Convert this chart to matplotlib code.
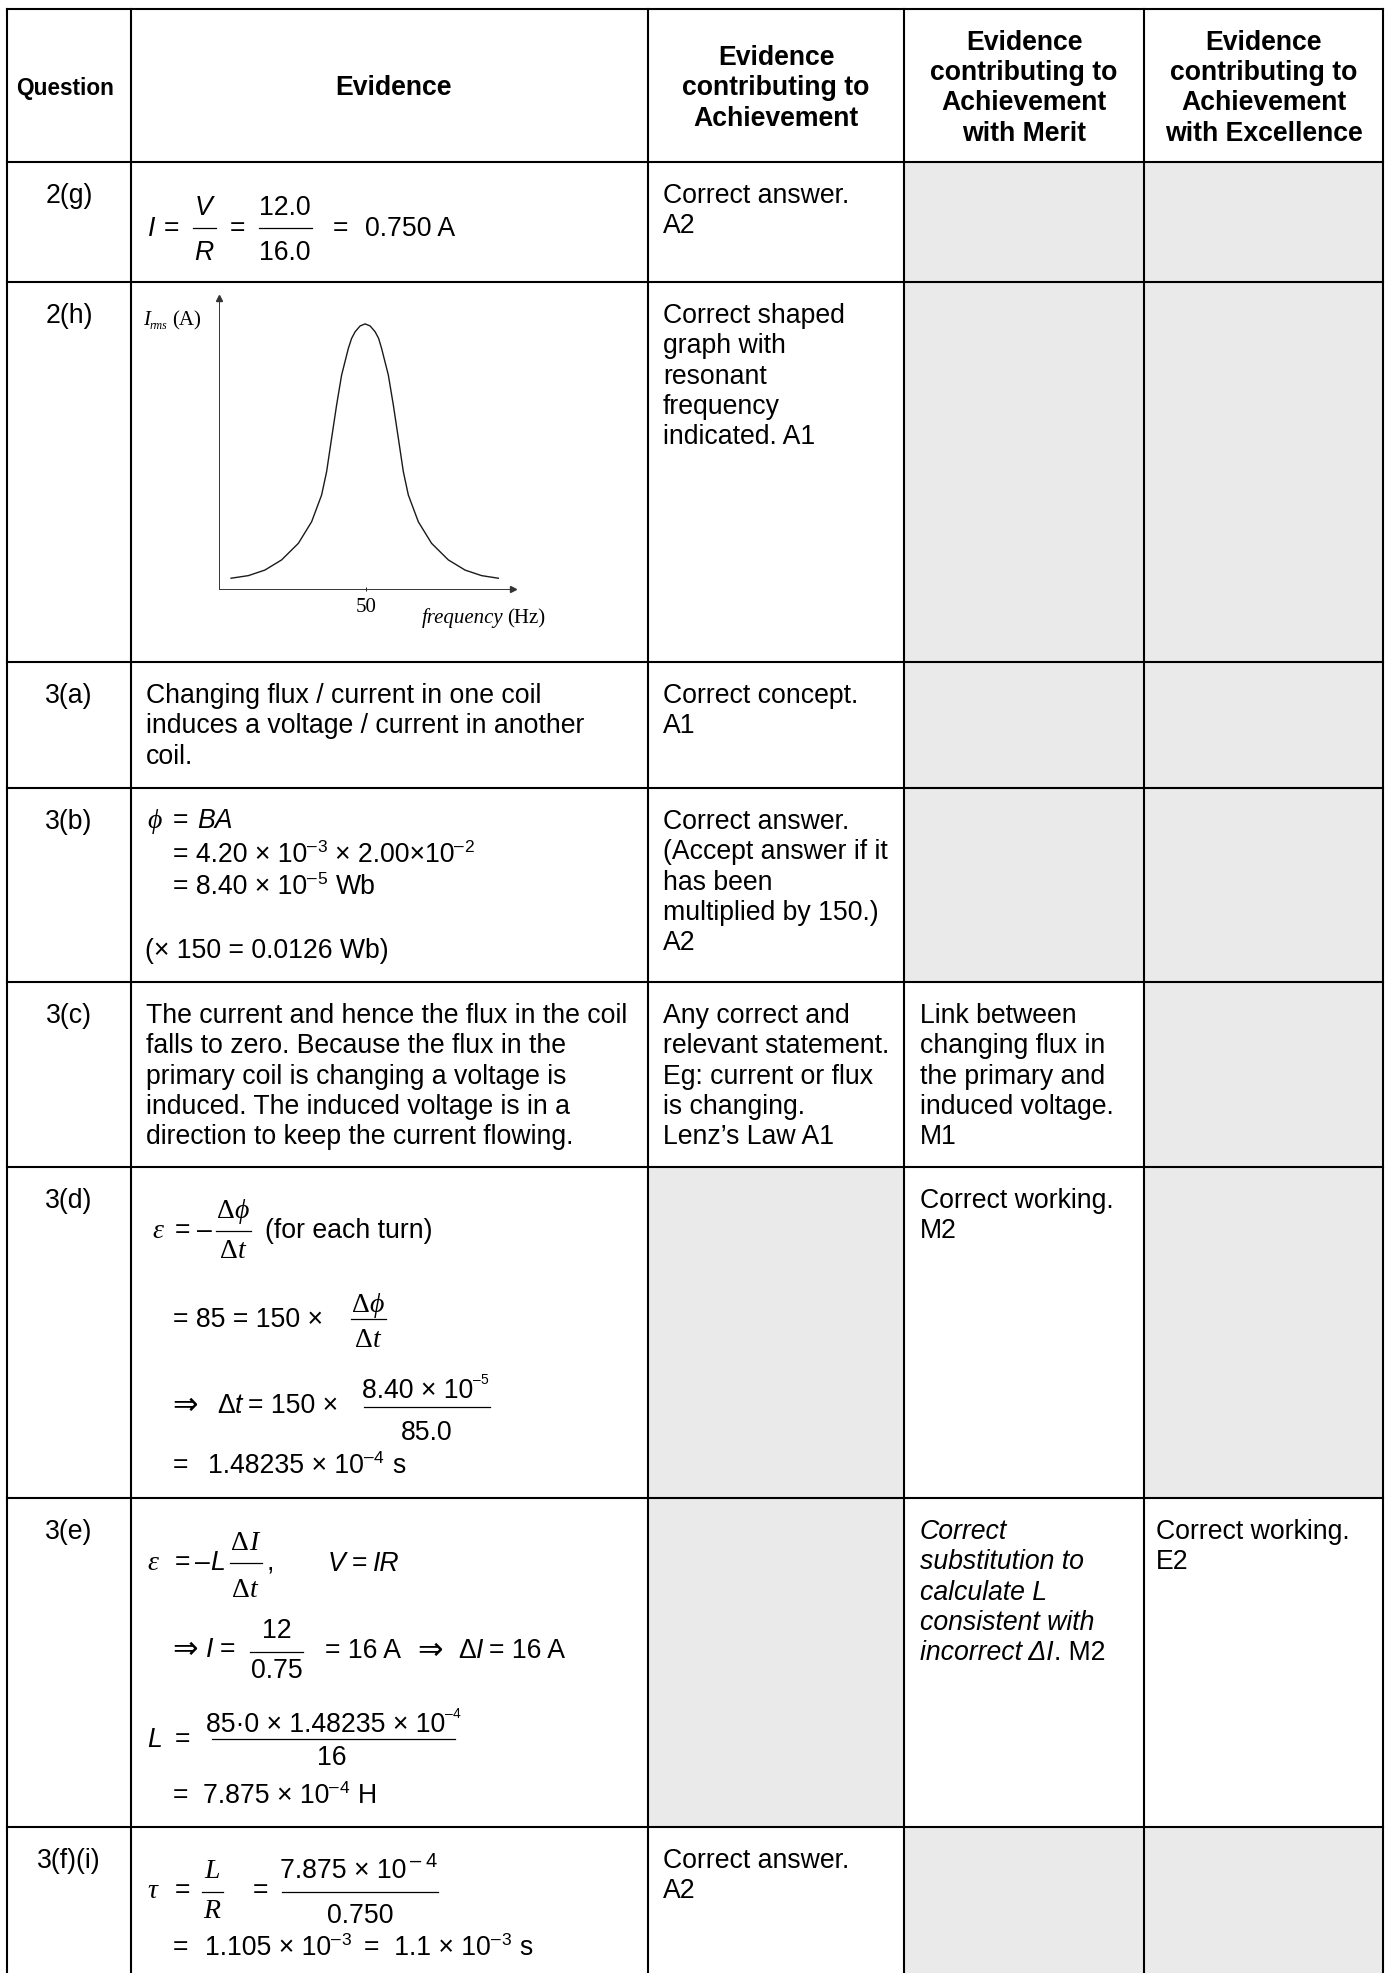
import matplotlib
matplotlib.use('Agg')
import matplotlib.pyplot as plt
from matplotlib.patches import Rectangle

plt.rcParams['font.family'] = ['Liberation Sans', 'DejaVu Sans']

# ---- table content ----
headers = [
    ['Question'],
    ['Evidence'],
    ['Evidence', 'contributing to', 'Achievement'],
    ['Evidence', 'contributing to', 'Achievement', 'with Merit'],
    ['Evidence', 'contributing to', 'Achievement', 'with Excellence'],
]
questions = ['2(g)', '2(h)', '3(a)', '3(b)', '3(c)', '3(d)', '3(e)', '3(f)(i)']
achievement = [
    ['Correct answer.', 'A2'],
    ['Correct shaped', 'graph with', 'resonant', 'frequency', 'indicated. A1'],
    ['Correct concept.', 'A1'],
    ['Correct answer.', '(Accept answer if it', 'has been', 'multiplied by 150.)', 'A2'],
    ['Any correct and', 'relevant statement.', 'Eg: current or flux', 'is changing.',
     'Lenz\u2019s Law A1'],
    [],
    [],
    ['Correct answer.', 'A2'],
]
merit = [
    [], [], [], [],
    ['Link between', 'changing flux in', 'the primary and', 'induced voltage.', 'M1'],
    ['Correct working.', 'M2'],
    ['Correct', 'substitution to', 'calculate L', 'consistent with'],
    [],
]
merit_last_3e = ('incorrect \u0394I', '. M2')
excellence = [[], [], [], [], [], [], ['Correct working.', 'E2'], []]
# grey cells: [achievement, merit, excellence]
shade = [
    [0, 1, 1], [0, 1, 1], [0, 1, 1], [0, 1, 1],
    [0, 0, 1], [1, 0, 1], [1, 0, 0], [0, 1, 1],
]
evidence_3a = ['Changing flux / current in one coil',
               'induces a voltage / current in another', 'coil.']
evidence_3c = ['The current and hence the flux in the coil',
               'falls to zero. Because the flux in the',
               'primary coil is changing a voltage is',
               'induced. The induced voltage is in a',
               'direction to keep the current flowing.']

# resonance curve (frequency in Hz, relative I_rms)
freq = [4.1, 10.0, 15.6, 21.3, 27.0, 31.5, 34.9, 36.6, 38.3, 40.0, 41.7, 44.0,
        45.1, 46.3, 48.0, 49.7, 51.4, 53.1, 54.3, 55.3, 57.6, 59.3, 61.0, 62.7,
        64.4, 67.8, 72.3, 78.0, 83.7, 89.3, 95.0]
current = [0.037, 0.046, 0.065, 0.100, 0.157, 0.231, 0.323, 0.403, 0.518, 0.632,
           0.735, 0.827, 0.861, 0.884, 0.904, 0.911, 0.904, 0.884, 0.861, 0.827,
           0.735, 0.632, 0.518, 0.403, 0.323, 0.231, 0.157, 0.100, 0.065, 0.046,
           0.037]

# ---- layout ----
W, H = 1387, 1973
col_x = [7, 131, 648, 904, 1144, 1383]
row_y = [9, 162, 282, 662, 788, 982, 1167, 1498, 1827]
text_x = [None, 146, 663, 920, 1156]
FIRST, LEAD = 41, 30.3
FS, RS = 19.2, 20
GREY = '#eaeaea'
SANS = ['Liberation Sans', 'DejaVu Sans']
SERIF = ['Liberation Serif', 'DejaVu Serif']
S = dict(fontsize=FS, family=SANS)
SI = dict(fontsize=FS, family=SANS, style='italic')
R = dict(fontsize=RS, family=SERIF)
RI = dict(fontsize=RS, family=SERIF, style='italic')
SUP = dict(fontsize=12.5, family=SANS)
SUPS = dict(fontsize=10, family=SANS)
SUPL = dict(fontsize=14.5, family=SANS)
ARW = dict(fontsize=22, family=['DejaVu Sans'])

fig = plt.figure(figsize=(W / 100, H / 100), dpi=100)
ax = fig.add_axes([0, 0, 1, 1])
ax.set_xlim(0, W)
ax.set_ylim(H, 0)
ax.axis('off')
renderer = fig.canvas.get_renderer()


def put(x, y, s, kw=S, ha='left'):
    return ax.text(x, y, s, va='baseline', ha=ha, **kw)


def run(x, y, parts, ha='left'):
    # parts: (text, style) or (text, style, raise) or a gap in pixels
    texts, cur = [], x
    for p in parts:
        if isinstance(p, (int, float)):
            cur += p
            continue
        dy = p[2] if len(p) > 2 else 0
        t = put(cur, y - dy, p[0], p[1])
        cur += t.get_window_extent(renderer=renderer).width
        texts.append(t)
    if ha == 'center':
        shift = (cur - x) / 2
        for t in texts:
            t.set_x(t.get_position()[0] - shift)


def bar(x0, x1, y):
    ax.plot([x0, x1], [y, y], color='black', lw=0.9)


def para(x, top, lines, kw=S):
    for i, s in enumerate(lines):
        put(x, top + FIRST + i * LEAD, s, kw)


# grey cells
bottoms = row_y[1:] + [H]
for i, flags in enumerate(shade):
    for j, f in enumerate(flags):
        if f:
            ax.add_patch(Rectangle((col_x[j + 2], row_y[i + 1]),
                                   col_x[j + 3] - col_x[j + 2],
                                   bottoms[i + 1] - row_y[i + 1],
                                   facecolor=GREY, edgecolor='none'))

# grid
for y in row_y:
    ax.plot([col_x[0], col_x[-1]], [y, y], color='black', lw=1.5,
            solid_capstyle='projecting')
for x in col_x:
    ax.plot([x, x], [row_y[0], H], color='black', lw=1.5,
            solid_capstyle='projecting')

# header
for j, lines in enumerate(headers):
    xc = (col_x[j] + col_x[j + 1]) / 2 + (4 if j == 1 else 0)
    n = len(lines)
    kw = dict(fontsize=16.3 if j == 0 else FS, family=SANS, weight='bold')
    for i, s in enumerate(lines):
        put(xc - (4 if j == 0 else 0), 86 + 9.2 + (i - (n - 1) / 2) * LEAD, s, kw,
            ha='center')

# question labels and marking columns
for i, q in enumerate(questions):
    top = row_y[i + 1]
    put(69, top + FIRST, q, ha='center')
    para(text_x[2], top, achievement[i])
    para(text_x[3], top, merit[i], SI if i == 6 else S)
    para(text_x[4], top, excellence[i])
run(text_x[3], row_y[7] + FIRST + 4 * LEAD, [(merit_last_3e[0], SI), (merit_last_3e[1], S)])

# 2(g)
put(148, 236, 'I', SI)
put(164, 236, '=')
put(204, 215, 'V', SI, ha='center')
bar(193, 216, 228)
put(204, 260, 'R', SI, ha='center')
put(230, 236, '=')
put(285, 215, '12.0', ha='center')
bar(259, 312, 228)
put(285, 260, '16.0', ha='center')
put(333, 236, '=')
put(365, 236, '0.750 A')

# 2(h) resonance sketch
gx0, gx1, gy0, gy1 = 219, 513, 298, 589
gax = fig.add_axes([gx0 / W, 1 - gy1 / H, (gx1 - gx0) / W, (gy1 - gy0) / H])
gax.patch.set_alpha(0)
gax.set_xlim(0, 100)
gax.set_ylim(0, 1)
gax.plot(freq, current, color='#1a1a1a', lw=1.0)
for side in ['top', 'right']:
    gax.spines[side].set_visible(False)
for side in ['left', 'bottom']:
    gax.spines[side].set_linewidth(0.7)
    gax.spines[side].set_color('#333333')
gax.set_yticks([])
gax.set_xticks([50])
gax.set_xticklabels(['50'], family=SERIF, fontsize=15)
gax.tick_params(axis='x', direction='inout', length=3, width=0.6, pad=5)
gax.plot(1, 0, '>', color='#333333', ms=4, transform=gax.get_yaxis_transform(),
         clip_on=False)
gax.plot(0, 1, '^', color='#333333', ms=4, transform=gax.get_xaxis_transform(),
         clip_on=False)
put(143, 325, 'I', dict(fontsize=15, family=SERIF, style='italic'))
put(150, 329, 'rms', dict(fontsize=8.5, family=SERIF, style='italic'))
put(172, 325, '(A)', dict(fontsize=15, family=SERIF))
run(422, 623, [('frequency', dict(fontsize=15, family=SERIF, style='italic')), 4,
               ('(Hz)', dict(fontsize=15, family=SERIF))])

# 3(a)
para(text_x[1], row_y[3], evidence_3a)

# 3(b)
put(147, 828, '\u03d5', RI)
put(173, 828, '=')
put(197, 828, 'BA', SI)
run(173, 862, [('= 4.20 \u00d7 10', S), ('\u2013', SUP, 10), ('3', SUP, 10), 8,
               ('\u00d7 2.00\u00d710', S), ('\u2013', SUP, 10), ('2', SUP, 10)])
run(173, 894, [('= 8.40 \u00d7 10', S), ('\u2013', SUP, 10), ('5', SUP, 10), 9,
               ('Wb', S)])
put(145, 958, '(\u00d7 150 = 0.0126 Wb)')

# 3(c)
para(text_x[1], row_y[5], evidence_3c)

# 3(d)
put(152, 1238, '\u03b5', RI)
put(175, 1238, '=')
put(197, 1238, '\u2013')
run(233, 1218, [('\u0394', R), ('\u03d5', RI)], ha='center')
bar(216, 251, 1231)
run(233, 1258, [('\u0394', R), ('t', RI)], ha='center')
put(265, 1238, '(for each turn)')
put(173, 1327, '= 85 = 150 \u00d7')
run(368, 1312, [('\u0394', R), ('\u03d5', RI)], ha='center')
bar(351, 386, 1319)
run(368, 1347, [('\u0394', R), ('t', RI)], ha='center')
put(172, 1414, '\u21d2', ARW)
run(217, 1413, [('\u0394', S), ('t', SI), 6, ('= 150 \u00d7', S)])
run(425, 1398, [('8.40 \u00d7 10', S), ('\u2013', SUPS, 14), ('5', SUPS, 14)], ha='center')
bar(364, 490, 1407)
put(427, 1440, '85.0', ha='center')
put(173, 1473, '=')
run(208, 1473, [('1.48235 \u00d7 10', S), ('\u2013', SUP, 10), ('4', SUP, 10), 9,
                ('s', S)])

# 3(e)
put(147, 1570, '\u03b5', RI)
put(175, 1570, '=')
run(195, 1570, [('\u2013', S), ('L', SI)])
run(245, 1550, [('\u0394', R), ('I', RI)], ha='center')
bar(230, 262, 1563)
run(245, 1597, [('\u0394', R), ('t', RI)], ha='center')
put(267, 1570, ',')
run(328, 1571, [('V', SI), 6, ('=', S), 6, ('IR', SI)])
put(172, 1658, '\u21d2', ARW)
run(206, 1657, [('I', SI), 6, ('=', S)])
put(277, 1638, '12', ha='center')
bar(250, 303, 1652)
put(277, 1678, '0.75', ha='center')
put(325, 1658, '= 16 A')
put(417, 1659, '\u21d2', ARW)
run(458, 1658, [('\u0394', S), ('I', SI), 6, ('= 16 A', S)])
put(147, 1747, 'L', SI)
put(175, 1747, '=')
run(333, 1732, [('85\u00b70 \u00d7 1.48235 \u00d7 10', S), ('\u2013', SUPS, 14),
                ('4', SUPS, 14)], ha='center')
bar(212, 455, 1739)
put(332, 1765, '16', ha='center')
put(173, 1803, '=')
run(203, 1803, [('7.875 \u00d7 10', S), ('\u2013', SUP, 10), ('4', SUP, 10), 9,
                ('H', S)])

# 3(f)(i)
put(147, 1898, '\u03c4', RI)
put(175, 1898, '=')
put(212, 1878, 'L', RI, ha='center')
bar(202, 223, 1892)
put(212, 1918, 'R', RI, ha='center')
put(253, 1898, '=')
run(358, 1878, [('7.875 \u00d7 10', S), 4, ('\u2013', SUPL, 11), 4, ('4', SUPL, 11)],
    ha='center')
bar(282, 438, 1892)
put(360, 1923, '0.750', ha='center')
put(173, 1955, '=')
run(205, 1955, [('1.105 \u00d7 10', S), ('\u2013', SUP, 10), ('3', SUP, 10), 14,
                ('=  1.1 \u00d7 10', S), ('\u2013', SUP, 10), ('3', SUP, 10), 9,
                ('s', S)])

fig.savefig('out.png', dpi=100)
